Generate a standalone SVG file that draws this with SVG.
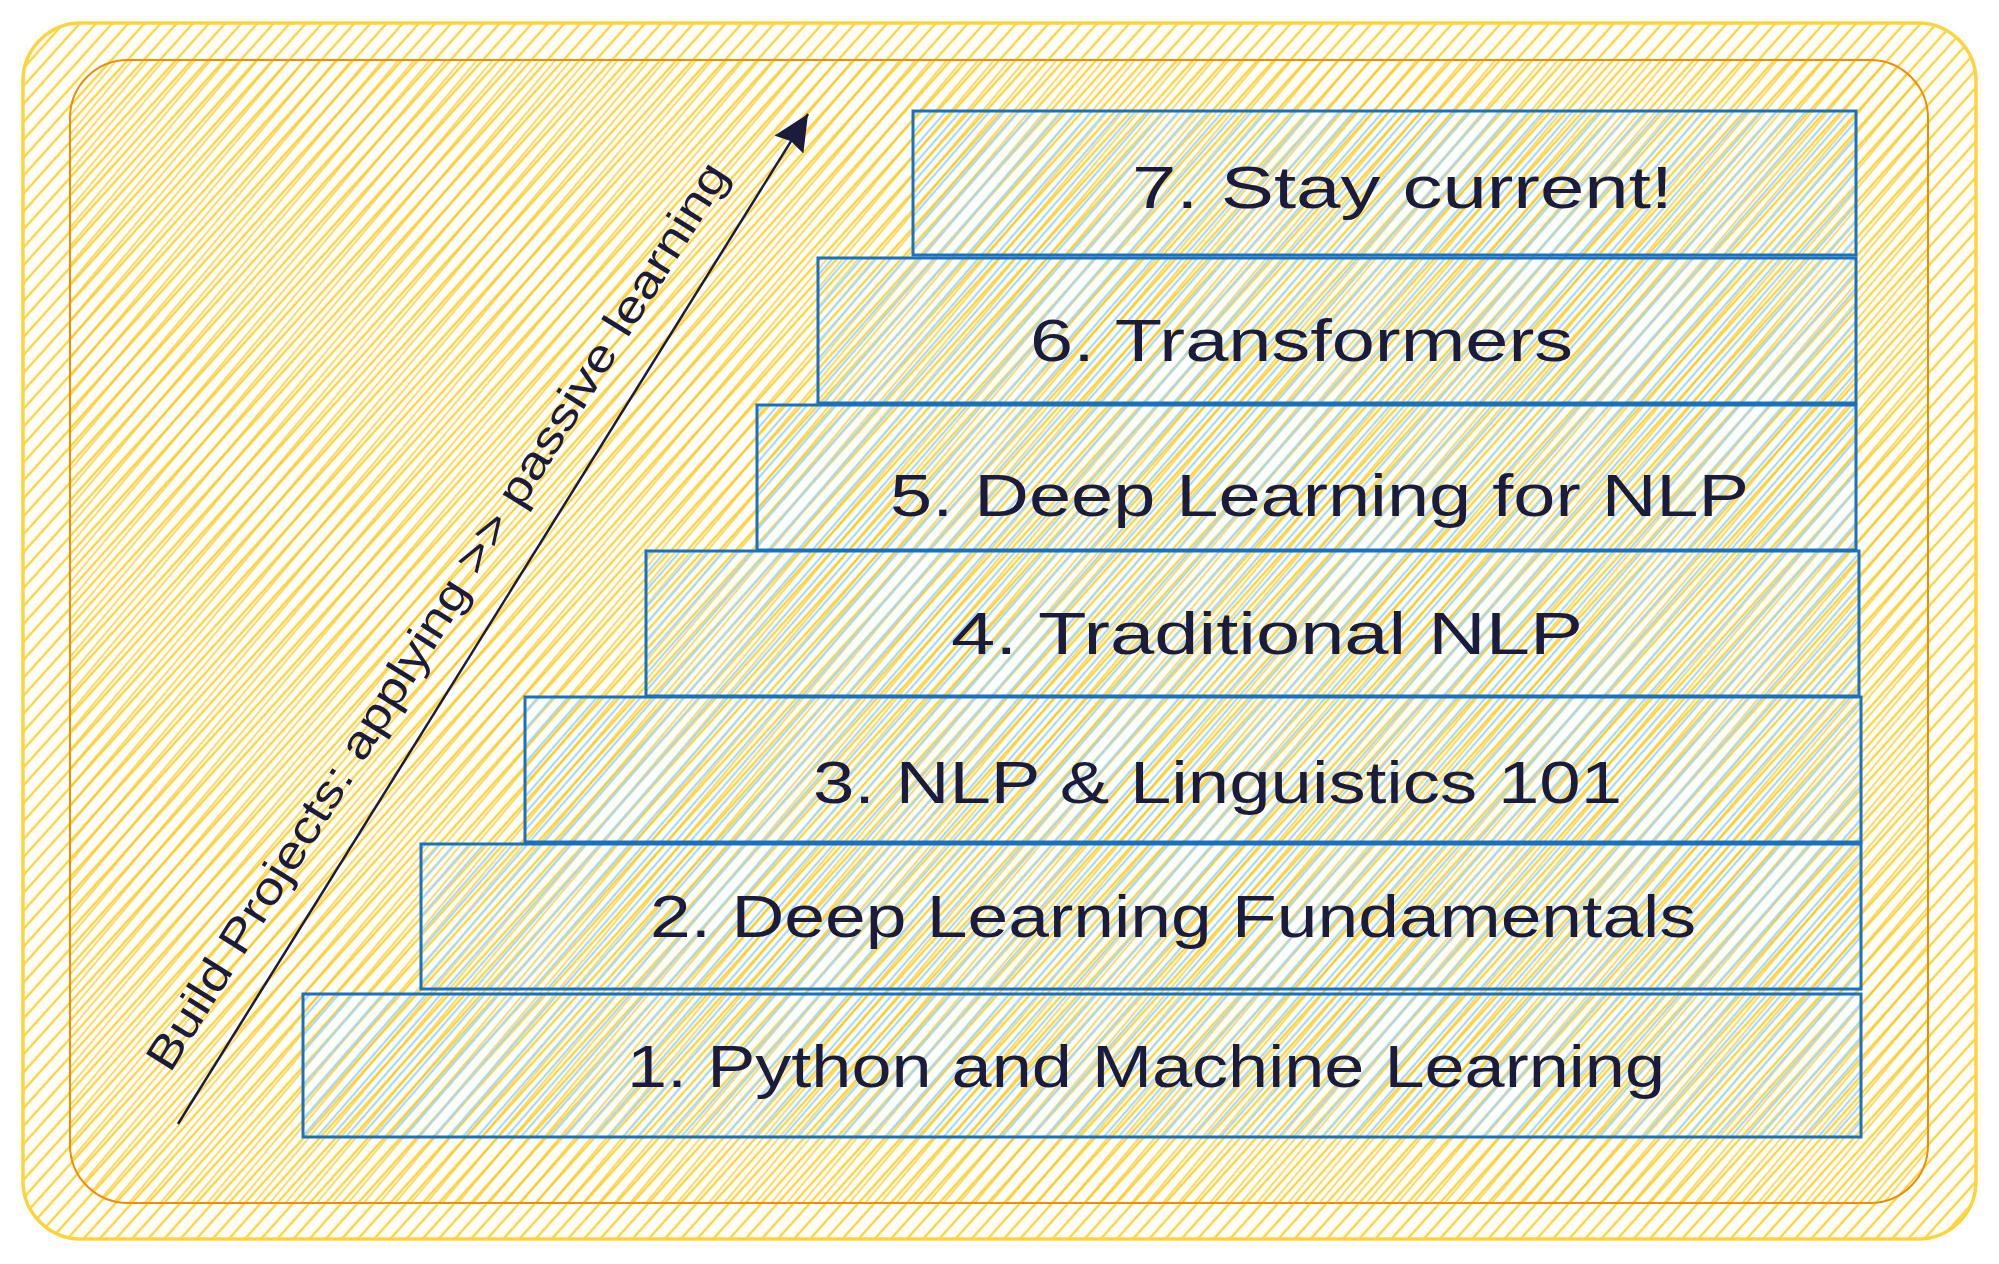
<svg xmlns="http://www.w3.org/2000/svg" width="1999" height="1264" viewBox="0 0 1999 1264">
<defs>
<pattern id="hatchY" width="12" height="12" patternUnits="userSpaceOnUse" patternTransform="rotate(42)">
<line x1="3" y1="0" x2="3" y2="12" stroke="#ffd43b" stroke-width="2.4"/>
</pattern>
<pattern id="hatchY2" width="12" height="12" patternUnits="userSpaceOnUse" patternTransform="rotate(40)">
<line x1="8" y1="0" x2="8" y2="12" stroke="#fcc419" stroke-width="1.6" stroke-opacity="0.8"/>
</pattern>
<pattern id="hatchB" width="11" height="11" patternUnits="userSpaceOnUse" patternTransform="rotate(41)">
<line x1="6" y1="0" x2="6" y2="11" stroke="#a5d8ff" stroke-width="2.2"/>
</pattern>
<marker id="arrowHead" markerWidth="38" markerHeight="34" refX="36" refY="17" orient="auto" markerUnits="userSpaceOnUse" viewBox="0 0 38 34">
<path d="M0,0 L36,17 L0,34 L4,17 Z" fill="#1b1b3d"/>
</marker>
<style>
.box rect { fill: url(#hatchB); stroke: #1971c2; stroke-width: 3; }
.box text { font-family: "Liberation Sans", Arial, sans-serif; font-size: 60px; fill: #1b1b3d; }
.side { font-family: "Liberation Sans", Arial, sans-serif; font-size: 45px; fill: #1b1b3d; }
</style>
</defs>
<rect width="1999" height="1264" fill="#ffffff"/>
<g id="outer-frame">
<rect x="23" y="23" width="1953" height="1216" rx="58" fill="url(#hatchY)" stroke="#ffd43b" stroke-width="3.5"/>
</g>
<g id="inner-frame">
<rect x="70" y="60" width="1858" height="1143" rx="58" fill="url(#hatchY2)" stroke="#f08c00" stroke-width="2"/>
</g>
<g id="step-7" class="box">
<rect x="913" y="111" width="943" height="144"/>
<text x="1132" y="208" textLength="541" lengthAdjust="spacingAndGlyphs">7. Stay current!</text>
</g>
<g id="step-6" class="box">
<rect x="818" y="258" width="1038" height="145"/>
<text x="1030" y="361" textLength="543" lengthAdjust="spacingAndGlyphs">6. Transformers</text>
</g>
<g id="step-5" class="box">
<rect x="757" y="405" width="1099" height="145"/>
<text x="890" y="516" textLength="859" lengthAdjust="spacingAndGlyphs">5. Deep Learning for NLP</text>
</g>
<g id="step-4" class="box">
<rect x="646" y="551" width="1213" height="145"/>
<text x="951" y="654" textLength="632" lengthAdjust="spacingAndGlyphs">4. Traditional NLP</text>
</g>
<g id="step-3" class="box">
<rect x="525" y="697" width="1336" height="145"/>
<text x="813" y="803" textLength="809" lengthAdjust="spacingAndGlyphs">3. NLP &amp; Linguistics 101</text>
</g>
<g id="step-2" class="box">
<rect x="421" y="844" width="1440" height="145"/>
<text x="650" y="937" textLength="1046" lengthAdjust="spacingAndGlyphs">2. Deep Learning Fundamentals</text>
</g>
<g id="step-1" class="box">
<rect x="303" y="994" width="1558" height="143"/>
<text x="627" y="1087" textLength="1038" lengthAdjust="spacingAndGlyphs">1. Python and Machine Learning</text>
</g>
<g id="connectors">
<line x1="178" y1="1124" x2="808" y2="114" stroke="#1b1b3d" stroke-width="2.5" marker-end="url(#arrowHead)"/>
</g>
<g id="arrow-label">
<text class="side" transform="translate(170,1074) rotate(-58.1)" x="0" y="0" textLength="1060" lengthAdjust="spacingAndGlyphs">Build Projects: applying &gt;&gt; passive learning</text>
</g>
</svg>
